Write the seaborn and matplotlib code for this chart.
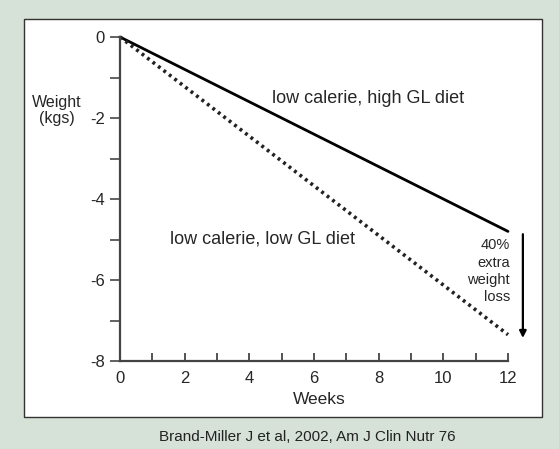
import pandas as pd
import matplotlib.pyplot as plt
import seaborn as sns
from matplotlib.patches import Rectangle

# Data

weeks = [0, 12]
high_gl = [0, -4.8]
low_gl = [0, -7.35]

high_label = "low calerie, high GL diet"
low_label = "low calerie, low GL diet"
caption = "Brand-Miller J et al, 2002, Am J Clin Nutr 76"

df = pd.DataFrame({"Weeks": weeks, "high": high_gl, "low": low_gl})

sns.set_style("white")
plt.rcParams["font.family"] = ["Liberation Sans", "DejaVu Sans"]

fig = plt.figure(figsize=(5.59, 4.49), dpi=100)
fig.patch.set_facecolor("#d6e1d7")

# white panel behind the plot
panel = Rectangle((24 / 559, 1 - 417 / 449), 518 / 559, 398 / 449,
                  transform=fig.transFigure, facecolor="white",
                  edgecolor="#333333", linewidth=1.0, zorder=-1)
fig.patches.append(panel)

ax = fig.add_axes([120 / 559, 1 - 361 / 449, 388 / 559, 324 / 449])
ax.set_zorder(1)
ax.set_facecolor("none")

sns.lineplot(data=df, x="Weeks", y="high", ax=ax, color="black",
             linewidth=2.0, clip_on=False)
sns.lineplot(data=df, x="Weeks", y="low", ax=ax, color="#222222",
             linewidth=2.6, linestyle=(0, (0.8, 1.1)), clip_on=False)

ax.set_xlim(0, 12)
ax.set_ylim(-8, 0)

ax.set_xticks(range(0, 13, 2))
ax.set_xticks(range(1, 13, 2), minor=True)
ax.set_yticks(range(-8, 1, 2))
ax.set_yticks(range(-7, 0, 2), minor=True)
ax.set_yticklabels([str(v) for v in range(-8, 1, 2)])

ax.tick_params(axis="x", which="both", bottom=True, direction="in",
               length=6, width=1.3, color="#444444", labelsize=12, pad=7)
ax.tick_params(axis="y", which="both", left=True, direction="out",
               length=7, width=1.3, color="#555555", labelsize=12, pad=4)

for side in ["top", "right"]:
    ax.spines[side].set_visible(False)
for side in ["left", "bottom"]:
    ax.spines[side].set_color("#444444")
    ax.spines[side].set_linewidth(1.6)

ax.set_xlabel("Weeks", fontsize=12.5)
ax.xaxis.set_label_coords(0.513, -0.097)
ax.set_ylabel("Weight\n(kgs)", fontsize=11.5, rotation=0,
              ha="center", va="center", linespacing=1.1)
ax.yaxis.set_label_coords(-0.162, 0.772)

ax.text(4.7, -1.63, high_label, fontsize=13, va="baseline")
ax.text(1.55, -5.09, low_label, fontsize=13, va="baseline")

# arrow showing the extra loss
ax.annotate("", xy=(12.46, low_gl[1] - 0.15), xytext=(12.46, high_gl[1]),
            arrowprops=dict(arrowstyle="-|>", color="black", lw=1.6,
                            mutation_scale=10),
            annotation_clip=False)
ax.text(12.06, -4.97, "40%\nextra\nweight\nloss", fontsize=10.5,
        ha="right", va="top", linespacing=1.3)

fig.text(307 / 559, 1 - 437 / 449, caption, fontsize=11,
         color="#222222", ha="center", va="center")

plt.savefig("out.png", dpi=100, facecolor=fig.get_facecolor())
